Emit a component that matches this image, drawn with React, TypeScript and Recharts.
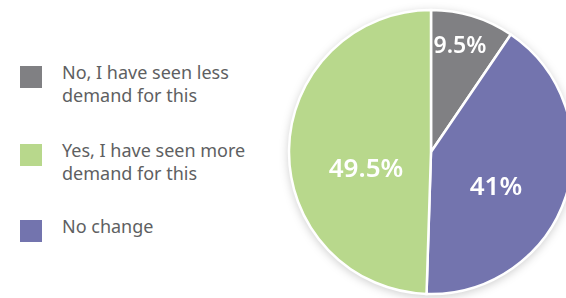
import { PieChart, Pie, Cell } from "recharts";

const categories = [
  "No, I have seen less demand for this",
  "No change",
  "Yes, I have seen more demand for this",
];
const shares = [9.5, 41, 49.5];
const sliceColors = ["#808083", "#7374ae", "#b8d88c"];

// legend order differs from slice order
const legendLines = [
  ["No, I have seen less", "demand for this"],
  ["Yes, I have seen more", "demand for this"],
  ["No change"],
];
const legendColors = ["#808083", "#b8d88c", "#7374ae"];

const data = categories.map((name, i) => ({ name, value: shares[i] }));

// label nudges relative to pie centre
const labelOffset = [
  { dx: 29, dy: -108 },
  { dx: 65, dy: 33 },
  { dx: -65, dy: 15 },
];

const FONT = "'Noto Sans', 'Open Sans', sans-serif";

function renderLabel(props: any) {
  const { cx, cy, index, value } = props;
  const o = labelOffset[index];
  return (
    <text
      x={cx + o.dx}
      y={cy + o.dy}
      fill="#ffffff"
      textAnchor="middle"
      dominantBaseline="central"
      fontSize={index === 0 ? 23 : 26}
      fontWeight={600}
      fontFamily={FONT}
    >
      {value}%
    </text>
  );
}

export default function App() {
  return (
    <div
      style={{
        position: "absolute",
        left: 0,
        top: 0,
        width: 566,
        height: 298,
        background: "#fff",
        overflow: "hidden",
        fontFamily: FONT,
      }}
    >
      <div style={{ position: "absolute", left: 0, top: 0 }}>
        <PieChart
          width={566}
          height={298}
          margin={{ top: 0, right: 0, bottom: 0, left: 0 }}
          style={{ filter: "drop-shadow(0 2px 4px rgba(0,0,0,0.18))" }}
        >
          <Pie
            data={data}
            dataKey="value"
            nameKey="name"
            cx={431}
            cy={152}
            outerRadius={142}
            startAngle={90}
            endAngle={-270}
            stroke="#ffffff"
            strokeWidth={2.5}
            label={renderLabel}
            labelLine={false}
            isAnimationActive={false}
          >
            {data.map((d, i) => (
              <Cell key={d.name} fill={sliceColors[i]} />
            ))}
          </Pie>
        </PieChart>
      </div>
      {legendLines.map((lines, i) => (
        <div
          key={i}
          style={{
            position: "absolute",
            left: 20,
            top: [66, 144, 220][i],
            display: "flex",
            alignItems: "flex-start",
          }}
        >
          <div
            style={{
              width: 22,
              height: 22,
              background: legendColors[i],
              flexShrink: 0,
            }}
          />
          <div
            style={{
              marginLeft: 20,
              marginTop: -5,
              fontSize: 18,
              lineHeight: "23px",
              color: "#5e5f62",
              whiteSpace: "nowrap",
            }}
          >
            {lines.map((l) => (
              <div key={l}>{l}</div>
            ))}
          </div>
        </div>
      ))}
    </div>
  );
}
